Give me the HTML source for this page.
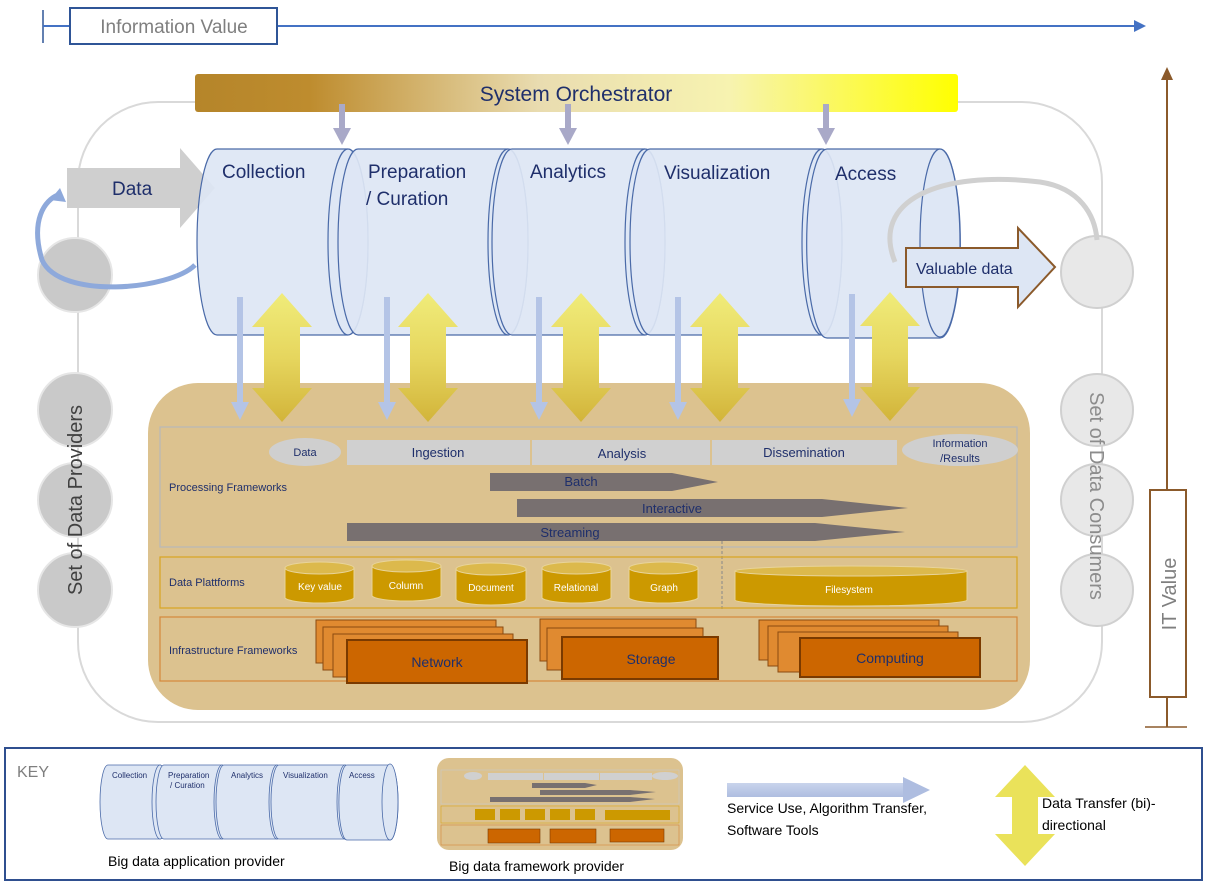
<!DOCTYPE html>
<html><head><meta charset="utf-8"><style>
html,body{margin:0;padding:0;background:#fff}
svg{display:block;font-family:"Liberation Sans",sans-serif}
</style></head><body>
<svg width="1209" height="886" viewBox="0 0 1209 886" xmlns="http://www.w3.org/2000/svg">
<defs>
<linearGradient id="orch" x1="0" x2="1" y1="0" y2="0">
<stop offset="0" stop-color="#b5852a"/><stop offset="0.15" stop-color="#be8c2e"/><stop offset="0.45" stop-color="#e9dcb0"/><stop offset="0.7" stop-color="#f7f3b0"/><stop offset="1" stop-color="#ffff00"/></linearGradient>
<linearGradient id="yel" x1="0" x2="0" y1="0" y2="1">
<stop offset="0" stop-color="#f0ec7a"/><stop offset="0.5" stop-color="#e6d65e"/><stop offset="1" stop-color="#d2b43a"/></linearGradient>
<linearGradient id="blu" x1="0" x2="0" y1="0" y2="1">
<stop offset="0" stop-color="#c9d4ec"/><stop offset="1" stop-color="#aebde0"/></linearGradient>
</defs>

<line x1="43" y1="10" x2="43" y2="43" stroke="#2f5597" stroke-width="1.5"/>
<line x1="43" y1="26" x2="1136" y2="26" stroke="#4472c4" stroke-width="2"/>
<polygon points="1134,20 1146,26 1134,32" fill="#4472c4"/>
<rect x="70" y="8" width="207" height="36" fill="#fff" stroke="#2f5597" stroke-width="2"/>
<text x="174" y="33" font-size="19" fill="#7f7f7f" text-anchor="middle">Information Value</text>

<line x1="1167" y1="78" x2="1167" y2="727" stroke="#8b5a2b" stroke-width="2"/>
<polygon points="1161,80 1167,67 1173,80" fill="#8b5a2b"/>
<line x1="1145" y1="727" x2="1187" y2="727" stroke="#8b5a2b" stroke-width="1.5"/>
<rect x="1150" y="490" width="36" height="207" fill="#fff" stroke="#8b5a2b" stroke-width="2"/>
<text transform="translate(1176,594) rotate(-90)" font-size="20" fill="#7f7f7f" text-anchor="middle">IT Value</text>

<rect x="78" y="102" width="1024" height="620" rx="80" fill="none" stroke="#d9d9d9" stroke-width="2"/>

<g fill="#c9c9c9" stroke="#e6e6e6" stroke-width="2">
<circle cx="75" cy="275" r="37"/><circle cx="75" cy="410" r="37"/><circle cx="75" cy="500" r="37"/><circle cx="75" cy="590" r="37"/>
</g>
<text transform="translate(82,500) rotate(-90)" font-size="20" fill="#404040" text-anchor="middle">Set of Data Providers</text>
<g fill="#e8e8e8" stroke="#d0d0d0" stroke-width="2">
<circle cx="1097" cy="272" r="36"/><circle cx="1097" cy="410" r="36"/><circle cx="1097" cy="500" r="36"/><circle cx="1097" cy="590" r="36"/>
</g>
<text transform="translate(1090,496) rotate(90)" font-size="20" fill="#8c8c8c" text-anchor="middle">Set of Data Consumers</text>

<rect x="148" y="383" width="882" height="327" rx="50" fill="#dcc28f"/>

<rect x="195" y="74" width="763" height="38" rx="3" fill="url(#orch)"/>
<text x="576" y="101" font-size="21" fill="#1f2f6b" text-anchor="middle">System Orchestrator</text>
<g fill="#a9a9c8">
<rect x="339" y="104" width="6" height="28"/><polygon points="333,128 351,128 342,145"/>
<rect x="565" y="104" width="6" height="28"/><polygon points="559,128 577,128 568,145"/>
<rect x="823" y="104" width="6" height="28"/><polygon points="817,128 835,128 826,145"/>
</g>

<polygon points="67,168 180,168 180,148 215,188 180,228 180,208 67,208" fill="#cfcfcf"/>
<text x="112" y="195" font-size="19" fill="#1f2f6b">Data</text>
<path d="M195,265 C170,290 60,300 42,260 C30,220 45,200 58,195" fill="none" stroke="#8ea9db" stroke-width="5"/>
<polygon points="50,200 60,188 66,202" fill="#8ea9db"/>

<g stroke="#4a6aa8" stroke-width="1.2" fill="#dde6f4" fill-opacity="0.92">
<path d="M217,149 A20,93 0 0 0 217,335 L348,335 A20,93 0 0 0 348,149 Z"/><ellipse cx="348" cy="242" rx="20" ry="93"/>
<path d="M358,149 A20,93 0 0 0 358,335 L508,335 A20,93 0 0 0 508,149 Z"/><ellipse cx="508" cy="242" rx="20" ry="93"/>
<path d="M512,149 A20,93 0 0 0 512,335 L645,335 A20,93 0 0 0 645,149 Z"/><ellipse cx="645" cy="242" rx="20" ry="93"/>
<path d="M650,149 A20,93 0 0 0 650,335 L822,335 A20,93 0 0 0 822,149 Z"/><ellipse cx="822" cy="242" rx="20" ry="93"/>
<path d="M827,149 A20,93 0 0 0 827,338 L940,338 A20,93 0 0 0 940,149 Z"/><ellipse cx="940" cy="243" rx="20" ry="94"/>
</g>
<g font-size="19" fill="#1f2f6b">
<text x="222" y="178">Collection</text>
<text x="368" y="178">Preparation</text><text x="366" y="205">/ Curation</text>
<text x="530" y="178">Analytics</text>
<text x="664" y="179">Visualization</text>
<text x="835" y="180">Access</text>
</g>

<path d="M895,262 C870,200 940,170 1040,182 C1080,188 1095,215 1097,240" fill="none" stroke="#d0d0d0" stroke-width="5"/>
<polygon points="906,248 1018,248 1018,228 1055,267 1018,307 1018,287 906,287" fill="#dde6f4" stroke="#8b5a2b" stroke-width="2"/>
<text x="916" y="274" font-size="16" fill="#1f2f6b">Valuable data</text>

<g fill="#b4c4e6">
<rect x="237" y="297" width="6" height="108"/><polygon points="231,402 249,402 240,420"/>
<rect x="384" y="297" width="6" height="108"/><polygon points="378,402 396,402 387,420"/>
<rect x="536" y="297" width="6" height="108"/><polygon points="530,402 548,402 539,420"/>
<rect x="675" y="297" width="6" height="108"/><polygon points="669,402 687,402 678,420"/>
<rect x="849" y="294" width="6" height="108"/><polygon points="843,399 861,399 852,417"/>
</g>
<g fill="url(#yel)">
<polygon points="282,293 312,327 300,327 300,388 312,388 282,422 252,388 264,388 264,327 252,327"/>
<polygon points="428,293 458,327 446,327 446,388 458,388 428,422 398,388 410,388 410,327 398,327"/>
<polygon points="581,293 611,327 599,327 599,388 611,388 581,422 551,388 563,388 563,327 551,327"/>
<polygon points="720,293 750,327 738,327 738,388 750,388 720,422 690,388 702,388 702,327 690,327"/>
<polygon points="890,292 920,326 908,326 908,387 920,387 890,421 860,387 872,387 872,326 860,326"/>
</g>

<rect x="160" y="427" width="857" height="120" fill="none" stroke="#b8b8b8" stroke-width="1.2"/>
<ellipse cx="305" cy="452" rx="36" ry="14" fill="#cfcfcf"/>
<rect x="347" y="440" width="183" height="25" fill="#d0d0d0"/>
<rect x="532" y="440" width="178" height="25" fill="#d0d0d0"/>
<rect x="712" y="440" width="185" height="25" fill="#d0d0d0"/>
<ellipse cx="960" cy="450" rx="58" ry="16" fill="#cfcfcf"/>
<g fill="#1f2f6b" font-size="13" text-anchor="middle">
<text x="305" y="456" font-size="11">Data</text>
<text x="438" y="457">Ingestion</text>
<text x="622" y="458">Analysis</text>
<text x="804" y="457">Dissemination</text>
<text x="960" y="447" font-size="11">Information</text><text x="960" y="462" font-size="11">/Results</text>
</g>
<g fill="#787070">
<polygon points="490,473 672,473 718,482 672,491 490,491"/>
<polygon points="517,499 822,499 908,508 822,517 517,517"/>
<polygon points="347,523 815,523 905,532 815,541 347,541"/>
</g>
<g fill="#1f2f6b" font-size="13" text-anchor="middle">
<text x="581" y="486">Batch</text><text x="672" y="513">Interactive</text><text x="570" y="537">Streaming</text>
</g>
<text x="169" y="491" font-size="11" fill="#1f2f6b">Processing Frameworks</text>
<line x1="722" y1="541" x2="722" y2="610" stroke="#888" stroke-dasharray="3,2"/>

<rect x="160" y="557" width="857" height="51" fill="none" stroke="#d9a520" stroke-width="1.2"/>
<text x="169" y="586" font-size="11" fill="#1f2f6b">Data Plattforms</text>
<g fill="#cc9900" stroke="#e8d49a" stroke-width="1">
<path d="M285,568 L285,598 A35,6 0 0 0 354,598 L354,568 Z"/><ellipse cx="319.5" cy="568" rx="34.5" ry="6" fill="#dcb94c"/>
<path d="M372,566 L372,596 A35,6 0 0 0 441,596 L441,566 Z"/><ellipse cx="406.5" cy="566" rx="34.5" ry="6" fill="#dcb94c"/>
<path d="M456,569 L456,599 A35,6 0 0 0 526,599 L526,569 Z"/><ellipse cx="491" cy="569" rx="35" ry="6" fill="#dcb94c"/>
<path d="M542,568 L542,598 A35,6 0 0 0 611,598 L611,568 Z"/><ellipse cx="576.5" cy="568" rx="34.5" ry="6" fill="#dcb94c"/>
<path d="M629,568 L629,598 A35,6 0 0 0 698,598 L698,568 Z"/><ellipse cx="663.5" cy="568" rx="34.5" ry="6" fill="#dcb94c"/>
<path d="M735,571 L735,600 A116,6 0 0 0 967,600 L967,571 Z"/><ellipse cx="851" cy="571" rx="116" ry="5" fill="#dcb94c"/>
</g>
<g fill="#fff" font-size="10" text-anchor="middle">
<text x="320" y="590">Key value</text><text x="406" y="589">Column</text><text x="491" y="591">Document</text><text x="576" y="591">Relational</text><text x="664" y="591">Graph</text><text x="849" y="593">Filesystem</text>
</g>

<rect x="160" y="617" width="857" height="64" fill="none" stroke="#d4883a" stroke-width="1.2"/>
<text x="169" y="654" font-size="11" fill="#1f2f6b">Infrastructure Frameworks</text>
<g fill="#e08a30" stroke="#8a4a10" stroke-width="1">
<rect x="316" y="620" width="180" height="43"/><rect x="323" y="627" width="180" height="43"/><rect x="333" y="634" width="180" height="43"/>
<rect x="540" y="619" width="156" height="42"/><rect x="547" y="628" width="156" height="42"/>
<rect x="759" y="620" width="180" height="40"/><rect x="768" y="626" width="180" height="40"/><rect x="778" y="632" width="180" height="40"/>
</g>
<g fill="#cc6600" stroke="#7a3a00" stroke-width="2">
<rect x="347" y="640" width="180" height="43"/>
<rect x="562" y="637" width="156" height="42"/>
<rect x="800" y="638" width="180" height="39"/>
</g>
<g fill="#1f2f6b" font-size="14" text-anchor="middle">
<text x="437" y="667">Network</text><text x="651" y="664">Storage</text><text x="890" y="663">Computing</text>
</g>

<rect x="5" y="748" width="1197" height="132" fill="#fff" stroke="#2f4f8f" stroke-width="2"/>
<text x="17" y="777" font-size="16" fill="#7f7f7f">KEY</text>
<g stroke="#4a6aa8" stroke-width="0.8" fill="#dde6f4">
<path d="M108,765 A8,37 0 0 0 108,839 L160,839 A8,37 0 0 0 160,765 Z"/><ellipse cx="160" cy="802" rx="8" ry="37"/>
<path d="M164,765 A8,37 0 0 0 164,839 L222,839 A8,37 0 0 0 222,765 Z"/><ellipse cx="222" cy="802" rx="8" ry="37"/>
<path d="M224,765 A8,37 0 0 0 224,839 L277,839 A8,37 0 0 0 277,765 Z"/><ellipse cx="277" cy="802" rx="8" ry="37"/>
<path d="M279,765 A8,37 0 0 0 279,839 L345,839 A8,37 0 0 0 345,765 Z"/><ellipse cx="345" cy="802" rx="8" ry="37"/>
<path d="M347,765 A8,37 0 0 0 347,840 L390,840 A8,37 0 0 0 390,765 Z"/><ellipse cx="390" cy="802" rx="8" ry="38"/>
</g>
<g font-size="8" fill="#1f2f6b">
<text x="112" y="778">Collection</text><text x="168" y="778">Preparation</text><text x="170" y="788">/ Curation</text>
<text x="231" y="778">Analytics</text><text x="283" y="778">Visualization</text><text x="349" y="778">Access</text>
</g>
<text x="108" y="866" font-size="14" fill="#000">Big data application provider</text>

<rect x="437" y="758" width="246" height="92" rx="12" fill="#dcc28f"/>
<rect x="441" y="770" width="238" height="34" fill="none" stroke="#c8c8c8" stroke-width="0.6"/>
<rect x="441" y="806" width="238" height="17" fill="none" stroke="#d9a520" stroke-width="0.6"/>
<rect x="441" y="825" width="238" height="20" fill="none" stroke="#d4883a" stroke-width="0.6"/>
<g fill="#d0d0d0"><rect x="488" y="773" width="55" height="7"/><rect x="544" y="773" width="55" height="7"/><rect x="600" y="773" width="52" height="7"/><ellipse cx="473" cy="776" rx="9" ry="4"/><ellipse cx="665" cy="776" rx="13" ry="4"/></g>
<g fill="#787070"><polygon points="532,783 585,783 597,785 585,788 532,788"/><polygon points="540,790 630,790 656,792 630,795 540,795"/><polygon points="490,797 630,797 655,799 630,802 490,802"/></g>
<g fill="#cc9900"><rect x="475" y="809" width="20" height="11"/><rect x="500" y="809" width="20" height="11"/><rect x="525" y="809" width="20" height="11"/><rect x="550" y="809" width="20" height="11"/><rect x="575" y="809" width="20" height="11"/><rect x="605" y="810" width="65" height="10"/></g>
<g fill="#cc6600" stroke="#7a3a00" stroke-width="0.6"><rect x="488" y="829" width="52" height="14"/><rect x="550" y="829" width="46" height="14"/><rect x="610" y="829" width="54" height="13"/></g>
<text x="449" y="871" font-size="14" fill="#000">Big data framework provider</text>

<rect x="727" y="783" width="178" height="14" fill="url(#blu)"/>
<polygon points="903,777 930,790 903,803" fill="#aebde0"/>
<text x="727" y="813" font-size="14" fill="#000">Service Use, Algorithm Transfer,</text>
<text x="727" y="835" font-size="14" fill="#000">Software Tools</text>
<polygon points="1025,765 1055,797 1038,797 1038,834 1055,834 1025,866 995,834 1012,834 1012,797 995,797" fill="#eae25a"/>
<text x="1042" y="808" font-size="14" fill="#000">Data Transfer (bi)-</text>
<text x="1042" y="830" font-size="14" fill="#000">directional</text>
</svg>
</body></html>
